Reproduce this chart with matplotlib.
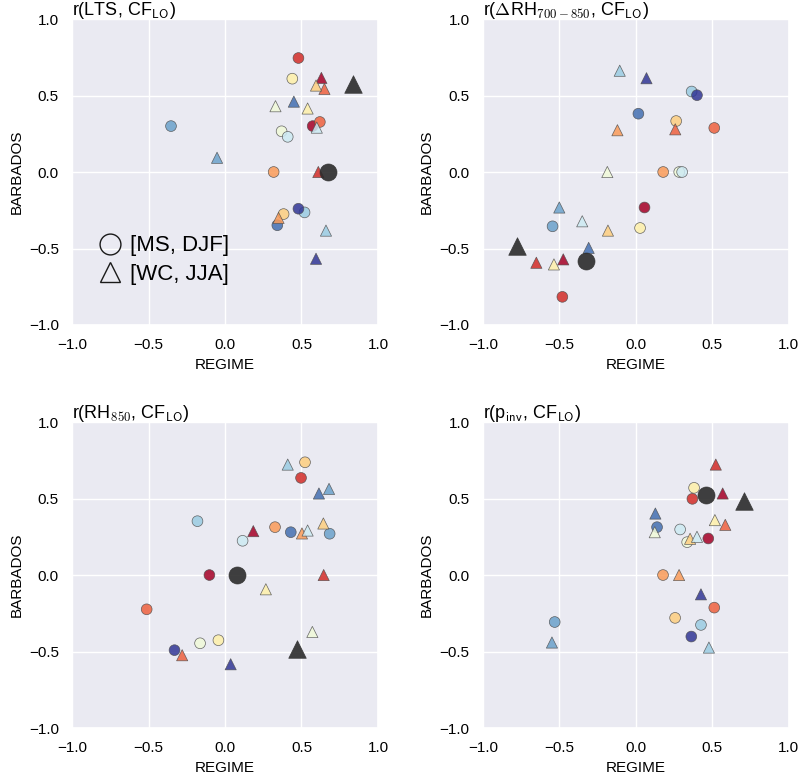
import matplotlib
matplotlib.use("Agg")
import matplotlib.pyplot as plt
from matplotlib.lines import Line2D
import numpy as np
import seaborn as sns

# one colour per model (12 models), circles = [MS, DJF], triangles = [WC, JJA]
lts_circ_x = [0.573, 0.48, 0.62, 0.318, 0.383, 0.44, 0.37, 0.41, 0.52, -0.353, 0.342, 0.48]
lts_circ_y = [0.30, 0.745, 0.327, 0.0, -0.275, 0.61, 0.266, 0.23, -0.264, 0.30, -0.348, -0.24]
lts_tri_x = [0.63, 0.61, 0.65, 0.35, 0.595, 0.54, 0.33, 0.60, 0.66, -0.052, 0.45, 0.595]
lts_tri_y = [0.615, 0.0, 0.543, -0.30, 0.565, 0.415, 0.43, 0.29, -0.383, 0.093, 0.46, -0.567]
lts_obs = [(0.675, 0.0), (0.835, 0.576)]

drh_circ_x = [0.057, -0.48, 0.513, 0.179, 0.264, 0.028, 0.284, 0.303, 0.365, -0.544, 0.017, 0.40]
drh_circ_y = [-0.232, -0.816, 0.288, 0.0, 0.333, -0.366, 0.0, 0.0, 0.526, -0.355, 0.381, 0.502]
drh_tri_x = [-0.474, -0.65, 0.258, -0.12, -0.182, -0.535, -0.186, -0.35, -0.105, -0.50, -0.308, 0.07]
drh_tri_y = [-0.571, -0.593, 0.279, 0.273, -0.383, -0.604, 0.0, -0.322, 0.662, -0.232, -0.496, 0.613]
drh_obs = [(-0.323, -0.582), (-0.775, -0.485)]

rh_circ_x = [-0.102, 0.497, -0.512, 0.327, 0.523, -0.043, -0.163, 0.115, -0.18, 0.684, 0.43, -0.33]
rh_circ_y = [0.0, 0.635, -0.224, 0.313, 0.737, -0.426, -0.446, 0.224, 0.352, 0.27, 0.28, -0.491]
rh_tri_x = [0.185, 0.645, -0.28, 0.503, 0.643, 0.267, 0.571, 0.54, 0.41, 0.68, 0.614, 0.037]
rh_tri_y = [0.287, 0.0, -0.524, 0.272, 0.337, -0.093, -0.372, 0.291, 0.722, 0.563, 0.533, -0.583]
rh_obs = [(0.08, 0.0), (0.473, -0.485)]

pinv_circ_x = [0.474, 0.37, 0.513, 0.178, 0.257, 0.381, 0.336, 0.29, 0.426, -0.53, 0.139, 0.363]
pinv_circ_y = [0.239, 0.498, -0.213, 0.0, -0.28, 0.57, 0.215, 0.298, -0.326, -0.307, 0.313, -0.402]
pinv_tri_x = [0.568, 0.523, 0.585, 0.283, 0.355, 0.517, 0.124, 0.40, 0.478, -0.548, 0.128, 0.426]
pinv_tri_y = [0.533, 0.722, 0.328, 0.0, 0.237, 0.359, 0.28, 0.25, -0.474, -0.441, 0.402, -0.126]
pinv_obs = [(0.457, 0.526), (0.705, 0.483)]

titles = [r"r(LTS, CF$_{\mathsf{LO}}$)",
          r"r($\Delta$RH$_{700-850}$, CF$_{\mathsf{LO}}$)",
          r"r(RH$_{850}$, CF$_{\mathsf{LO}}$)",
          r"r(p$_{\mathsf{inv}}$, CF$_{\mathsf{LO}}$)"]
ticks = [-1.0, -0.5, 0.0, 0.5, 1.0]

sns.set_theme(style="darkgrid", context="notebook")
plt.rcParams["font.family"] = ["Liberation Sans", "DejaVu Sans"]
plt.rcParams["mathtext.fontset"] = "cm"
for key in ["text.color", "axes.labelcolor", "xtick.color", "ytick.color"]:
    plt.rcParams[key] = "black"

colors = plt.cm.RdYlBu(np.linspace(0, 1, 12))

panels = [
    (lts_circ_x, lts_circ_y, lts_tri_x, lts_tri_y, lts_obs),
    (drh_circ_x, drh_circ_y, drh_tri_x, drh_tri_y, drh_obs),
    (rh_circ_x, rh_circ_y, rh_tri_x, rh_tri_y, rh_obs),
    (pinv_circ_x, pinv_circ_y, pinv_tri_x, pinv_tri_y, pinv_obs),
]

fig = plt.figure(figsize=(8.02, 7.82), dpi=100)
lefts = [0.0898, 0.602]
bottoms = [0.5844, 0.069]
w, h = 0.3815, 0.3913

for k, (cx, cy, tx, ty, obs) in enumerate(panels):
    ax = fig.add_axes([lefts[k % 2], bottoms[k // 2], w, h])
    ax.scatter(cx, cy, c=colors, marker="o", s=60, alpha=0.85,
               edgecolors="0.3", linewidths=0.5, zorder=3)
    ax.scatter(tx, ty, c=colors, marker="^", s=65, alpha=0.85,
               edgecolors="0.3", linewidths=0.5, zorder=3)
    ax.scatter([obs[0][0]], [obs[0][1]], c="#2b2b2b", marker="o", s=150,
               alpha=0.9, edgecolors="0.2", linewidths=0.5, zorder=4)
    ax.scatter([obs[1][0]], [obs[1][1]], c="#2b2b2b", marker="^", s=160,
               alpha=0.9, edgecolors="0.2", linewidths=0.5, zorder=4)
    ax.set_xlim(-1, 1)
    ax.set_ylim(-1, 1)
    ax.set_xticks(ticks)
    ax.set_yticks(ticks)
    ax.set_xlabel("REGIME", fontsize=11)
    ax.set_ylabel("BARBADOS", fontsize=11)
    ax.set_title(titles[k], loc="left", fontsize=13, pad=3)

    if k == 0:
        handles = [
            Line2D([], [], marker="o", ls="", mfc="none", mec="k", mew=1.0, ms=15),
            Line2D([], [], marker="^", ls="", mfc="none", mec="k", mew=1.0, ms=15),
        ]
        ax.legend(handles, ["[MS, DJF]", "[WC, JJA]"], loc="lower left",
                  bbox_to_anchor=(0.015, 0.065), frameon=False, fontsize=16,
                  handletextpad=0.3, labelspacing=0.35, handlelength=1.2)

fig.savefig("out.png", dpi=100)
